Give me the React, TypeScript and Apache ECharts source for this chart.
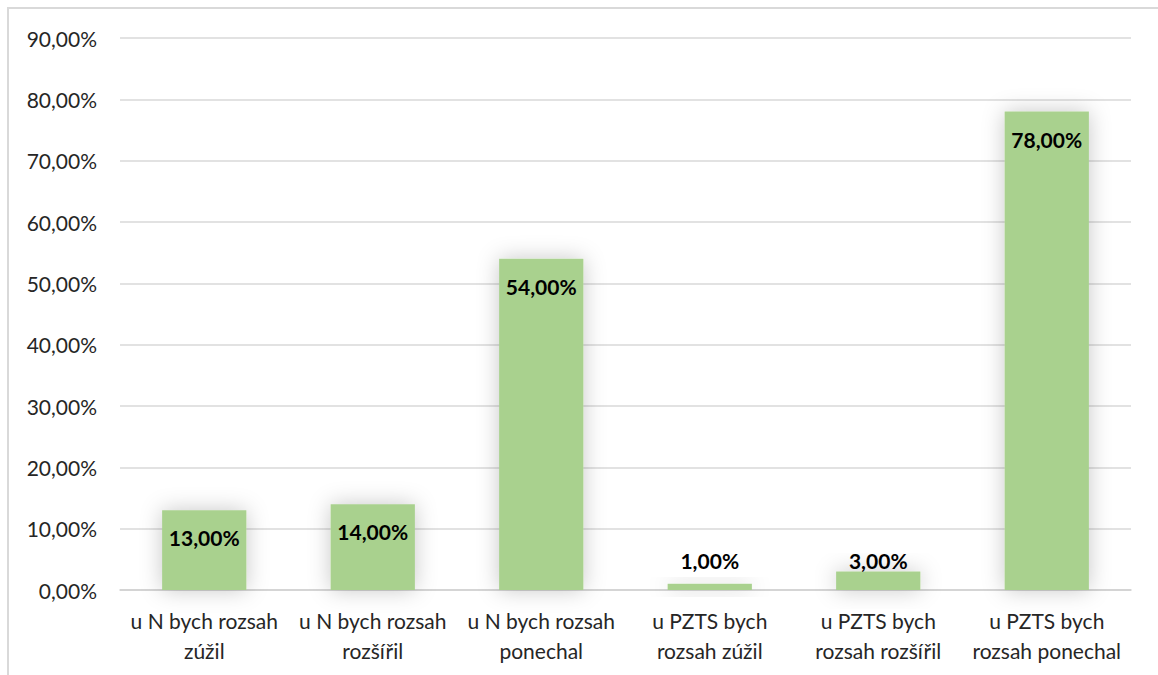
import React, { useEffect, useRef } from "react";
import * as echarts from "echarts";

const categories = [
  "u N bych rozsah\nzúžil",
  "u N bych rozsah\nrozšířil",
  "u N bych rozsah\nponechal",
  "u PZTS bych\nrozsah zúžil",
  "u PZTS bych\nrozsah rozšířil",
  "u PZTS bych\nrozsah ponechal",
];
const values = [13, 14, 54, 1, 3, 78];
const outsideLabelBelow = 10;

const fmt = (v: number) => v.toFixed(2).replace(".", ",") + "%";

export default function App() {
  const ref = useRef<HTMLDivElement>(null);
  useEffect(() => {
    if (!ref.current) return;
    const chart = echarts.init(ref.current, null, { renderer: "svg" });
    const font = "Lato, 'Noto Sans', sans-serif";
    chart.setOption({
      animation: false,
      grid: { left: 120, right: 27, top: 38, bottom: 85, containLabel: false },
      xAxis: {
        type: "category",
        data: categories,
        axisTick: { show: false },
        axisLine: { show: true, lineStyle: { color: "#d0d0d0", width: 1.5 } },
        axisLabel: {
          color: "#262626",
          fontSize: 21,
          fontFamily: font,
          lineHeight: 30,
          margin: 15,
          interval: 0,
        },
      },
      yAxis: {
        type: "value",
        min: 0,
        max: 90,
        interval: 10,
        axisLine: { show: false },
        axisTick: { show: false },
        splitLine: { lineStyle: { color: "#d9d9d9", width: 1.5 } },
        axisLabel: {
          color: "#262626",
          fontSize: 21,
          fontFamily: font,
          margin: 23,
          formatter: (v: number) => fmt(v),
        },
      },
      series: [
        {
          type: "bar",
          barWidth: "50%",
          data: values.map((v) => ({
            value: v,
            label: {
              position: v < outsideLabelBelow ? "insideBottom" : "insideTop",
              distance: v < outsideLabelBelow ? 19 : 17,
            },
          })),
          itemStyle: {
            color: "#a9d18e",
            shadowBlur: 22,
            shadowColor: "rgba(0,0,0,0.22)",
          },
          label: {
            show: true,
            color: "#000000",
            fontSize: 21,
            fontWeight: "bold",
            fontFamily: font,
            formatter: (p: any) => fmt(p.value),
          },
        },
      ],
    });
    return () => chart.dispose();
  }, []);
  return (
    <div style={{ position: "absolute", left: 0, top: 0, width: 1158, height: 675, background: "#fff" }}>
      <div
        style={{
          position: "absolute",
          left: 7,
          top: 7,
          width: 1151,
          height: 668,
          borderLeft: "2px solid #d9d9d9",
          borderTop: "2px solid #d9d9d9",
          boxSizing: "border-box",
        }}
      />
      <div ref={ref} style={{ position: "absolute", left: 0, top: 0, width: 1158, height: 675 }} />
    </div>
  );
}
